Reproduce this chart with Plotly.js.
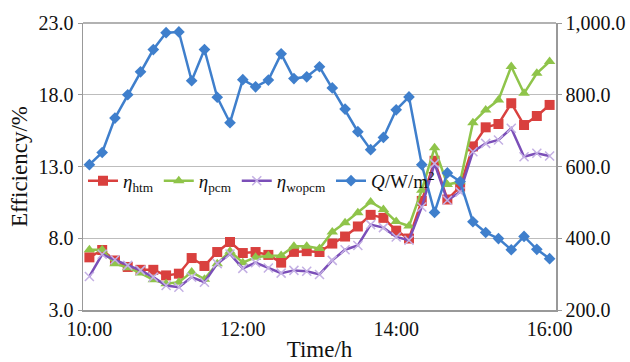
<!DOCTYPE html>
<html>
<head>
<meta charset="utf-8">
<script src="https://cdn.plot.ly/plotly-3.0.1.min.js"></script>
<style>
html,body{margin:0;padding:0;background:#fff;}
#chart{width:630px;height:362px;}
</style>
</head>
<body>
<div id="chart"></div>
<script>
// time in hours, 10-minute steps from 10:00 to 16:00
const timeHours = [10,10+1/6,10+2/6,10.5,10+4/6,10+5/6,11,11+1/6,11+2/6,11.5,11+4/6,11+5/6,12,12+1/6,12+2/6,12.5,12+4/6,12+5/6,13,13+1/6,13+2/6,13.5,13+4/6,13+5/6,14,14+1/6,14+2/6,14.5,14+4/6,14+5/6,15,15+1/6,15+2/6,15.5,15+4/6,15+5/6,16];
const tickVals = [10, 12, 14, 16];
const tickText = ["10:00", "12:00", "14:00", "16:00"];

const etaHtm = [6.67,7.18,6.45,6.0,5.8,5.8,5.41,5.53,6.62,6.07,7.04,7.74,6.97,7.04,6.84,6.3,7.05,7.1,7.04,7.63,8.12,8.82,9.63,9.42,8.53,7.98,10.6,13.4,10.7,11.6,14.4,15.73,15.96,17.41,15.89,16.52,17.29];
const etaPcm = [7.2,7.2,6.23,5.95,5.57,5.11,4.83,4.94,5.64,5.15,6.23,7.1,6.3,6.67,6.78,6.8,7.45,7.45,7.28,8.44,9.08,9.78,10.53,10.0,9.16,8.85,11.35,14.3,11.75,11.93,16.05,16.94,17.64,19.97,18.1,19.5,20.32];
const etaWopcm = [5.34,6.88,6.5,6.11,5.76,5.29,4.71,4.59,5.29,4.94,6.23,6.9,5.9,6.3,5.93,5.57,5.76,5.7,5.48,6.46,7.2,7.5,8.95,8.74,8.09,7.86,10.18,13.2,10.65,11.23,14.03,14.61,14.85,15.66,13.68,13.92,13.73];
const qRad = [605,639,735,800,864,926,973,975,839,926,793,722,842,822,841,914,845,850,878,819,760,697,647,681,758,794,605,472,582,558,446,416,399,368,405,369,343];

const font = "Liberation Serif";

const traces = [
  {x: timeHours, y: etaHtm, name: "<i>η</i><sub>htm</sub>", type: "scatter", mode: "lines+markers",
   line: {color: "#d9403e", width: 2.5}, marker: {symbol: "square", size: 10, color: "#d9403e"}},
  {x: timeHours, y: etaPcm, name: "<i>η</i><sub>pcm</sub>", type: "scatter", mode: "lines+markers",
   line: {color: "#8fc44a", width: 2.5}, marker: {symbol: "triangle-up", size: 10, color: "#8fc44a"}},
  {x: timeHours, y: etaWopcm, name: "<i>η</i><sub>wopcm</sub>", type: "scatter", mode: "lines+markers",
   line: {color: "#7b4fb8", width: 2.5}, marker: {symbol: "x-thin-open", size: 9, color: "#c4b0e4", line: {width: 1.5, color: "#c4b0e4"}}},
  {x: timeHours, y: qRad, name: "<i>Q</i>/W/m<sup>2</sup>", type: "scatter", mode: "lines+markers", yaxis: "y2",
   line: {color: "#3f7fcc", width: 2.5}, marker: {symbol: "diamond", size: 9, color: "#3f7fcc"}}
];

const layout = {
  width: 630, height: 362,
  margin: {l: 83, r: 74, t: 23, b: 52},
  paper_bgcolor: "#fff", plot_bgcolor: "#fff",
  font: {family: font, size: 20, color: "#111"},
  showlegend: true,
  legend: {orientation: "h", x: 0.0, y: 0.45, xanchor: "left", yanchor: "middle",
           bgcolor: "rgba(0,0,0,0)", font: {family: font, size: 19}, itemwidth: 30, tracegroupgap: 0},
  xaxis: {range: [10 - 0.5/6, 16 + 0.5/6], tickvals: tickVals, ticktext: tickText,
          showgrid: false, zeroline: false, showline: true, linecolor: "#999", linewidth: 1.5,
          ticks: "", tickfont: {family: font, size: 20},
          title: {text: "Time/h", font: {family: font, size: 23}, standoff: 4}},
  yaxis: {range: [3, 23], dtick: 5, tick0: 3, tickformat: ".1f", showgrid: true, gridcolor: "#bdbdbd", gridwidth: 1,
          zeroline: false, showline: true, linecolor: "#999", linewidth: 1.5, ticks: "outside", ticklen: 4, tickcolor: "#999",
          tickfont: {family: font, size: 20},
          title: {text: "Efficiency/%", font: {family: font, size: 23}, standoff: 4}},
  yaxis2: {range: [200, 1000], dtick: 200, tick0: 200, tickformat: ",.1f", overlaying: "y", side: "right",
           showgrid: false, zeroline: false, showline: true, linecolor: "#999", linewidth: 1.5,
           ticks: "outside", ticklen: 4, tickcolor: "#999", tickfont: {family: font, size: 20}},
  shapes: [{type: "line", xref: "paper", yref: "paper", x0: 0, x1: 1, y0: 1, y1: 1, line: {color: "#999", width: 1.5}}]
};

Plotly.newPlot("chart", traces, layout, {displayModeBar: false, staticPlot: true});
</script>
</body>
</html>
